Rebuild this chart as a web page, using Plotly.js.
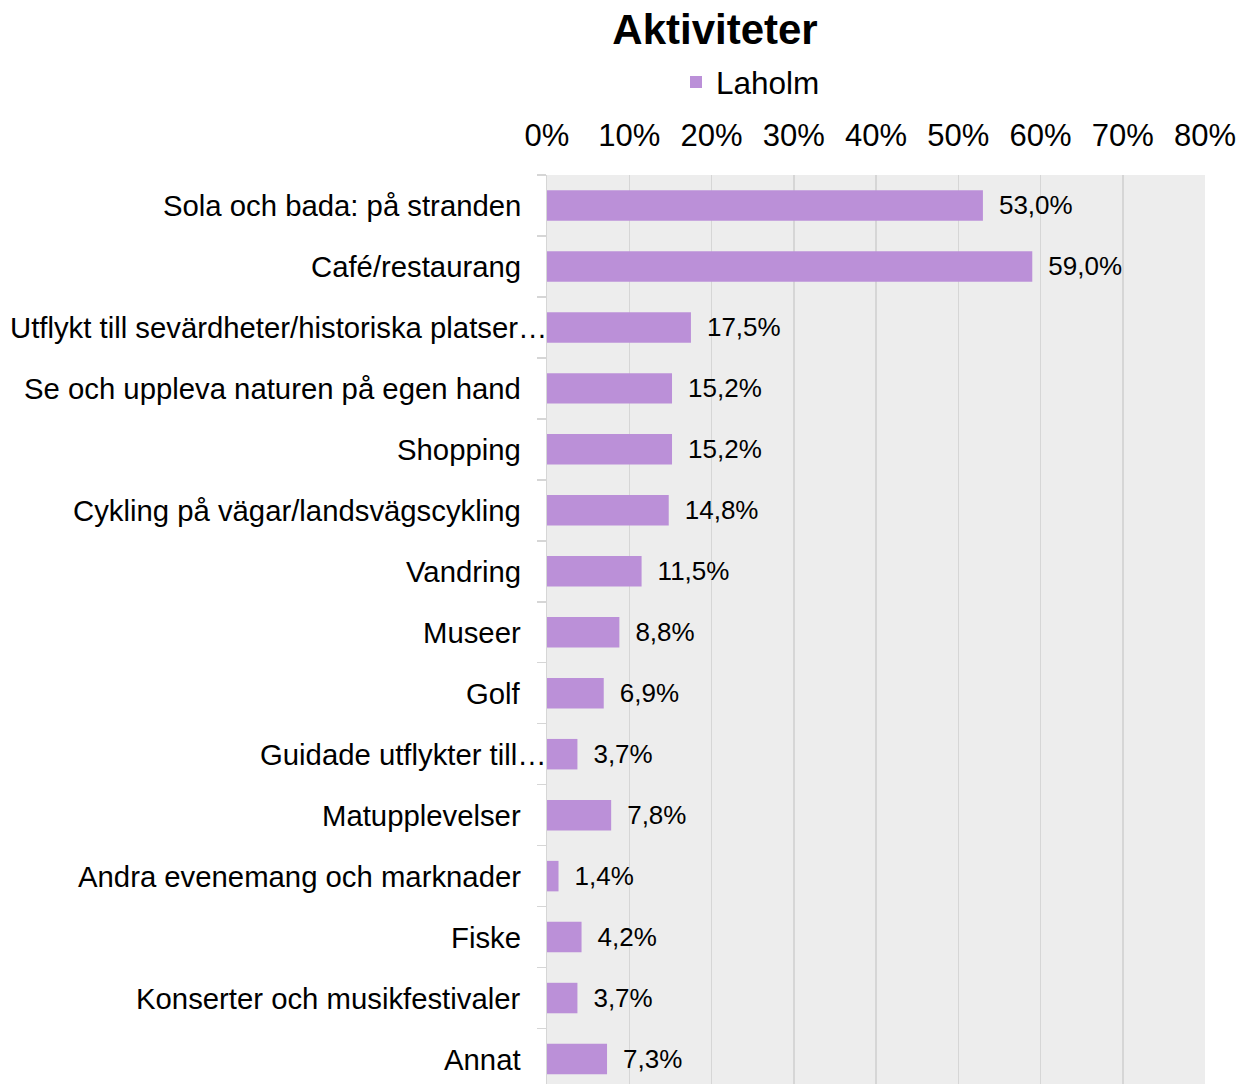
<!DOCTYPE html>
<html>
<head>
<meta charset="utf-8">
<script src="https://cdn.plot.ly/plotly-3.0.1.min.js"></script>
<style>
html,body{margin:0;padding:0;background:#fff;}
#chart{width:1240px;height:1084px;}
</style>
</head>
<body>
<div id="chart"></div>
<script>
const categories = [
  "Sola och bada: på stranden",
  "Café/restaurang",
  "Utflykt till sevärdheter/historiska platser…",
  "Se och uppleva naturen på egen hand",
  "Shopping",
  "Cykling på vägar/landsvägscykling",
  "Vandring",
  "Museer",
  "Golf",
  "Guidade utflykter till…",
  "Matupplevelser",
  "Andra evenemang och marknader",
  "Fiske",
  "Konserter och musikfestivaler",
  "Annat"
];
const laholm = [53.0, 59.0, 17.5, 15.2, 15.2, 14.8, 11.5, 8.8, 6.9, 3.7, 7.8, 1.4, 4.2, 3.7, 7.3];
const xTickValues = [0, 10, 20, 30, 40, 50, 60, 70, 80];

const FONT = "Liberation Sans, Arial, sans-serif";
const BAR = "#bb90d8";

const trace = {
  type: "bar",
  orientation: "h",
  name: "Laholm",
  y: categories,
  x: laholm,
  marker: {color: BAR},
  texttemplate: "\u2002%{x:.1f}%",
  textposition: "outside",
  cliponaxis: false,
  textfont: {family: FONT, size: 26, color: "#000"},
  hoverinfo: "skip"
};

const annotations = categories.map(c => ({
  text: c,
  xref: "paper",
  yref: "y",
  x: 0,
  y: c,
  xanchor: "right",
  yanchor: "middle",
  xshift: c.endsWith("…") ? 2 : -24,
  showarrow: false,
  font: {family: FONT, size: 29.3, color: "#000"}
}));

const layout = {
  width: 1240,
  height: 1084,
  margin: {l: 547, r: 35, t: 175, b: 0},
  paper_bgcolor: "#fff",
  plot_bgcolor: "#ededed",
  separators: ",.",
  bargap: 0.5,
  showlegend: true,
  font: {family: FONT, color: "#000"},
  title: {
    text: "<b>Aktiviteter</b>",
    font: {family: FONT, size: 42, color: "#000"},
    xref: "container", yref: "container",
    x: 715/1240, xanchor: "center",
    y: 1 - 29/1084, yanchor: "middle"
  },
  legend: {
    orientation: "h",
    xref: "container", yref: "container",
    x: 676/1240, xanchor: "left",
    y: 1 - 82/1084, yanchor: "middle",
    font: {family: FONT, size: 31.5, color: "#000"},
    bgcolor: "rgba(0,0,0,0)"
  },
  xaxis: {
    side: "top",
    range: [0, 80],
    tickvals: xTickValues,
    ticktext: xTickValues.map(v => v + "%"),
    showgrid: true,
    gridcolor: "#d6d6d6",
    gridwidth: 1.5,
    zeroline: false,
    showline: false,
    ticks: "",
    ticklabelstandoff: 22,
    tickfont: {family: FONT, size: 31, color: "#000"},
    fixedrange: true
  },
  yaxis: {
    type: "category",
    range: [14.41, -0.5],
    showgrid: false,
    zeroline: false,
    showline: true,
    linecolor: "#d6d6d6",
    linewidth: 1.5,
    ticks: "outside",
    tickson: "boundaries",
    ticklen: 9,
    tickcolor: "#d6d6d6",
    tickwidth: 1.5,
    showticklabels: false,
    fixedrange: true
  },
  annotations: annotations
};

Plotly.newPlot("chart", [trace], layout, {displayModeBar: false, staticPlot: true});
</script>
</body>
</html>
